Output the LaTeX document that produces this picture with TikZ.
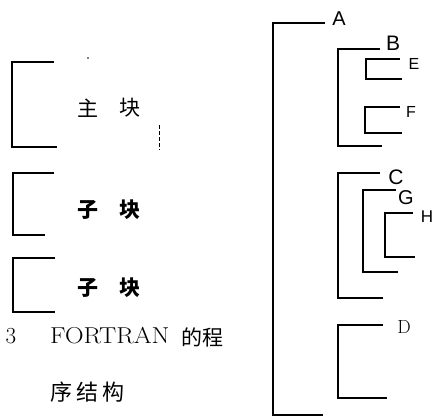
\documentclass[tikz,border=0pt]{standalone}
\usepackage{fontspec}
\newfontfamily\cjk{Noto Sans CJK SC}
\newfontfamily\lett{Liberation Sans}
\begin{document}
\begin{tikzpicture}[x=1pt,y=-1pt,
  br/.style={line width=1.7pt,line join=miter},
  blk/.style={font=\cjk\fontsize{21}{21}\selectfont,inner sep=0pt},
  blkb/.style={font=\cjk\bfseries\fontsize{21}{21}\selectfont,inner sep=0pt},
  captxt/.style={font=\fontsize{23}{23}\selectfont,inner sep=0pt},
  capc/.style={font=\cjk\fontsize{21}{21}\selectfont,inner sep=0pt},
  lab/.style={font=\lett\fontsize{20}{20}\selectfont,inner sep=0pt}]
\useasboundingbox (0,0) rectangle (438,417);
% left brackets
\draw[br] (54,62) -- (12,62) -- (12,147) -- (57,147);
\draw[br] (54,173) -- (13,173) -- (13,235) -- (45,235);
\draw[br] (55,258) -- (13,258) -- (13,312) -- (55,312);
\node[blk] (m1) at (88,108) {主};
\node[blk] (m2) at (130,108) {块};
\node[blkb] (s1) at (88,210) {子};
\node[blkb] (s2) at (130,210) {块};
\node[blkb] (t1) at (88,288) {子};
\node[blkb] (t2) at (130,288) {块};
\fill (88,58) circle (0.8pt);
\draw[line width=0.8pt,dash pattern=on 4pt off 2pt] (159,125) -- (159,150);
% caption
\node[captxt,anchor=center] (n3) at (11,336) {3};
\node[captxt,anchor=west,xscale=1.12,transform shape] (ft) at (50,336) {FORTRAN};
\node[capc,anchor=west] (dc) at (181,337) {的程};
\node[capc,anchor=west,font=\cjk\fontsize{22}{22}\selectfont] (xj) at (50,392) {序\hspace{4pt}结\hspace{4pt}构};
% right tree
\draw[br] (325,23) -- (273,23) -- (273,415) -- (323,415);
\node[lab,font=\lett\fontsize{20}{20}\selectfont] (A) at (339,19) {A};
\draw[br] (380,49) -- (338,49) -- (338,146) -- (382,146);
\node[lab,font=\lett\fontsize{21}{21}\selectfont] (B) at (393,43) {B};
\draw[br] (400,59) -- (366,59) -- (366,79) -- (402,79);
\node[lab,font=\lett\fontsize{16}{16}\selectfont] (E) at (414,64) {E};
\draw[br] (400,107) -- (365,107) -- (365,133) -- (402,133);
\node[lab,font=\lett\fontsize{16}{16}\selectfont] (F) at (411,112) {F};
\draw[br] (380,173) -- (338,173) -- (338,298) -- (383,298);
\node[lab,font=\lett\fontsize{21}{21}\selectfont] (C) at (396,177) {C};
\draw[br] (396,190) -- (363,190) -- (363,272) -- (398,272);
\node[lab,font=\lett\fontsize{20}{20}\selectfont] (G) at (406,198) {G};
\draw[br] (413,213) -- (385,213) -- (385,257) -- (415,257);
\node[lab,font=\lett\fontsize{17}{17}\selectfont] (H) at (427,217) {H};
\draw[br] (383,325) -- (338,325) -- (338,398) -- (387,398);
\node[lab,font=\fontsize{19}{19}\selectfont] (D) at (404,327) {D};
\end{tikzpicture}
\end{document}
